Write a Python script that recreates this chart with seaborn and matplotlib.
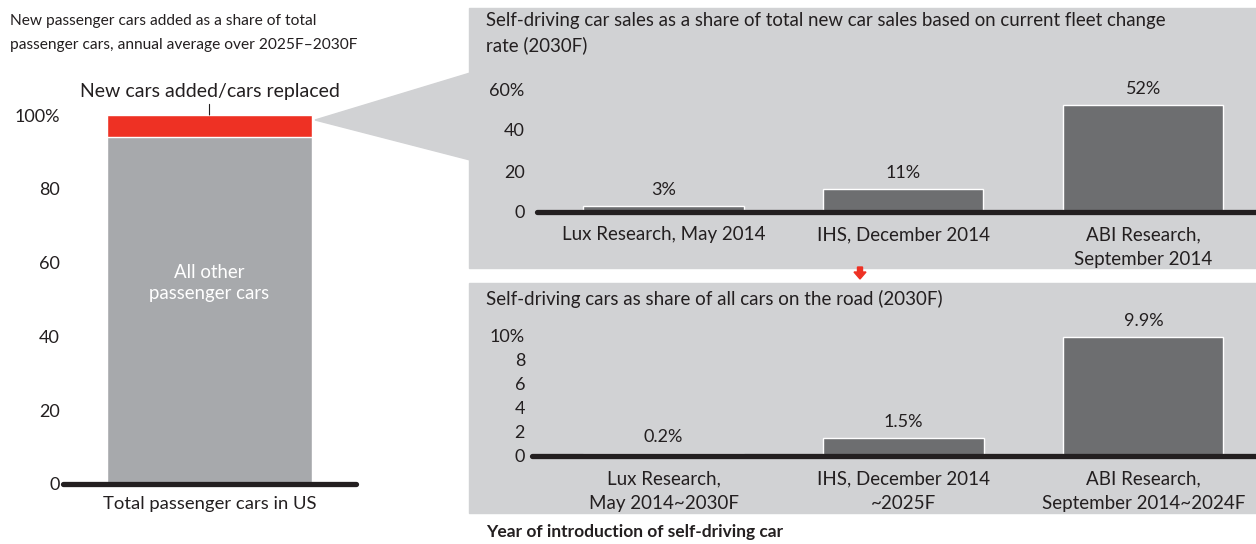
import matplotlib
matplotlib.use("Agg")
import matplotlib.pyplot as plt
import matplotlib.patches as mpatches
import seaborn as sns

# --- data ---
FLEET_CATEGORY = ["Total passenger cars in US"]
FLEET_OTHER = [94]
FLEET_NEW = [6]
FLEET_TICKS = [0, 20, 40, 60, 80, 100]
FLEET_TICKLABELS = ["0", "20", "40", "60", "80", "100%"]

SALES_SOURCES = ["Lux Research, May 2014", "IHS, December 2014", "ABI Research,\nSeptember 2014"]
SALES_SHARE = [3, 11, 52]
SALES_LABELS = ["3%", "11%", "52%"]
SALES_TICKS = [0, 20, 40, 60]
SALES_TICKLABELS = ["0", "20", "40", "60%"]

ROAD_SOURCES = ["Lux Research,\nMay 2014~2030F", "IHS, December 2014\n~2025F", "ABI Research,\nSeptember 2014~2024F"]
ROAD_SHARE = [0.2, 1.5, 9.9]
ROAD_LABELS = ["0.2%", "1.5%", "9.9%"]
ROAD_TICKS = [0, 2, 4, 6, 8, 10]
ROAD_TICKLABELS = ["0", "2", "4", "6", "8", "10%"]

W, H = 1256, 544
TEXT = "#231f20"
PANEL = "#d1d2d4"
DARKBAR = "#6d6e70"
LIGHTBAR = "#a7a9ac"
RED = "#ee3124"
FS = 13

sns.set_style("white")
plt.rcParams["font.family"] = ["Lato", "DejaVu Sans"]
plt.rcParams["text.color"] = TEXT
plt.rcParams["xtick.color"] = TEXT
plt.rcParams["ytick.color"] = TEXT

fig = plt.figure(figsize=(W / 100, H / 100), dpi=100)


def rect(x0, x1, ytop, ybot):
    return [x0 / W, 1 - ybot / H, (x1 - x0) / W, (ybot - ytop) / H]


def inch(x, y):
    return (x / 100, (H - y) / 100)


# grey panels and the callout wedge (behind the axes)
for x0, y0, x1, y1 in [(469, 8, 1256, 268), (469, 283, 1256, 513)]:
    fig.patches.append(mpatches.Rectangle(inch(x0, y1), (x1 - x0) / 100, (y1 - y0) / 100,
                                          transform=fig.dpi_scale_trans, color=PANEL, zorder=-2))
fig.patches.append(mpatches.Polygon([inch(315, 120), inch(470, 73), inch(470, 160)],
                                    transform=fig.dpi_scale_trans, color=PANEL, zorder=-2))
fig.patches.append(mpatches.FancyArrow(*inch(860, 267), 0, -0.12, width=0.05, head_width=0.12,
                                       head_length=0.07, length_includes_head=True,
                                       transform=fig.dpi_scale_trans, color=RED, zorder=-1))


def style_axis(ax, ticks, ticklabels, ypad, xpad):
    ax.set_facecolor("none")
    sns.despine(ax=ax, left=True, bottom=True)
    ax.set_yticks(ticks)
    ax.set_yticklabels(ticklabels)
    ax.tick_params(axis="y", length=0, pad=ypad, labelsize=FS)
    ax.tick_params(axis="x", length=0, pad=xpad, labelsize=13.5)
    ax.set_xlabel("")
    ax.set_ylabel("")
    ax.axhline(0, color=TEXT, lw=3.8, clip_on=False, zorder=5)


# --- left: fleet composition ---
ax0 = fig.add_axes(rect(63, 356, 115, 484))
total = [o + n for o, n in zip(FLEET_OTHER, FLEET_NEW)]
sns.barplot(x=FLEET_CATEGORY, y=total, color=RED, width=0.7, edgecolor="white", linewidth=1,
            saturation=1, ax=ax0)
sns.barplot(x=FLEET_CATEGORY, y=FLEET_OTHER, color=LIGHTBAR, width=0.7, edgecolor="white",
            linewidth=1, saturation=1, ax=ax0)
ax0.set_ylim(0, 100)
ax0.set_xlim(-0.5, 0.5)
style_axis(ax0, FLEET_TICKS, FLEET_TICKLABELS, 2.5, 9)
ax0.tick_params(axis="x", labelsize=13.3)
ax0.text(0, FLEET_OTHER[0] * 0.58, "All other\npassenger cars", color="white", ha="center",
         va="center", fontsize=13.4, linespacing=1.3)
ax0.annotate("New cars added/cars replaced", xy=(0, total[0]), xytext=(0, 11),
             textcoords="offset points", ha="center", va="bottom", fontsize=14,
             arrowprops=dict(arrowstyle="-", color=TEXT, lw=0.8, shrinkA=1, shrinkB=0))
fig.text(10 / W, 1 - 33 / H, "New passenger cars added as a share of total\n"
         "passenger cars, annual average over 2025F\u20132030F",
         fontsize=11.2, va="center", ha="left", linespacing=1.9)

# --- top right: share of new car sales ---
ax1 = fig.add_axes(rect(537, 1256, 89, 212))
sns.barplot(x=SALES_SOURCES, y=SALES_SHARE, color=DARKBAR, width=0.667, edgecolor="white",
            linewidth=1, saturation=1, ax=ax1)
ax1.set_ylim(0, 60)
ax1.set_xlim(-0.527, 2.469)
style_axis(ax1, SALES_TICKS, SALES_TICKLABELS, 9, 10)
for i, (v, lab) in enumerate(zip(SALES_SHARE, SALES_LABELS)):
    ax1.annotate(lab, xy=(i, v), xytext=(0, 6), textcoords="offset points",
                 ha="center", va="bottom", fontsize=FS)
for t in ax1.get_xticklabels():
    t.set_linespacing(1.6)
fig.text(486 / W, 1 - 33 / H, "Self-driving car sales as a share of total new car sales based on current fleet change\n"
         "rate (2030F)", fontsize=13.4, va="center", ha="left", linespacing=1.5)

# --- bottom right: share of cars on the road ---
ax2 = fig.add_axes(rect(532, 1256, 336, 456))
sns.barplot(x=ROAD_SOURCES, y=ROAD_SHARE, color=DARKBAR, width=0.667, edgecolor="white",
            linewidth=1, saturation=1, ax=ax2)
ax2.set_ylim(0, 10)
ax2.set_xlim(-0.548, 2.469)
style_axis(ax2, ROAD_TICKS, ROAD_TICKLABELS, 5, 10)
for i, (v, lab) in enumerate(zip(ROAD_SHARE, ROAD_LABELS)):
    ax2.annotate(lab, xy=(i, v), xytext=(0, 6), textcoords="offset points",
                 ha="center", va="bottom", fontsize=FS)
for t in ax2.get_xticklabels():
    t.set_linespacing(1.6)
fig.text(486 / W, 1 - 299 / H, "Self-driving cars as share of all cars on the road (2030F)",
         fontsize=13.5, va="center", ha="left")
fig.text(486 / W, 1 - 532 / H, "Year of introduction of self-driving car",
         fontsize=12.5, fontweight="bold", va="center", ha="left")

fig.savefig("out.png", dpi=100)
